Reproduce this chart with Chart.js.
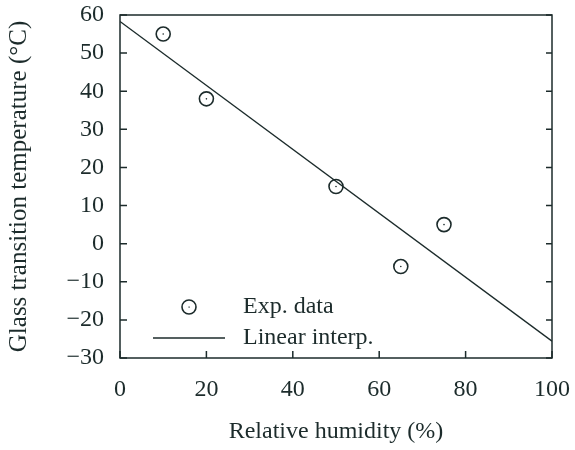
<!DOCTYPE html>
<html>
<head>
<meta charset="utf-8">
<script src="https://cdn.jsdelivr.net/npm/chart.js@4"></script>
<style>
  html, body { margin: 0; padding: 0; background: #fff; }
  #wrap { width: 575px; height: 450px; }
</style>
</head>
<body>
<div id="wrap"><canvas id="chart" width="575" height="450"></canvas></div>
<script>
// data
const humidity = [10, 20, 50, 65, 75];
const tgExp = [55, 38, 15, -6, 5];
const fitX = [0, 100];
const fitY = [58.3, -25.6];
const xTicks = [0, 20, 40, 60, 80, 100];
const yTicks = [60, 50, 40, 30, 20, 10, 0, -10, -20, -30];

const ink = '#1c2b2b';
const font = 'Liberation Serif';

// no extra room for half labels, the box is placed by hand
function noOverflow(s) {
  s.paddingTop = 0; s.paddingBottom = 0;
  s.paddingLeft = 0; s.paddingRight = 0;
}

// frame, inward ticks and legend in the plot box
const framePlugin = {
  id: 'frame',
  afterDraw(chart) {
    const { ctx, chartArea: a, scales } = chart;
    ctx.save();
    ctx.strokeStyle = ink;
    ctx.lineWidth = 1.5;
    ctx.strokeRect(a.left, a.top, a.right - a.left, a.bottom - a.top);
    ctx.beginPath();
    yTicks.forEach(v => {
      const y = scales.y.getPixelForValue(v);
      ctx.moveTo(a.left, y); ctx.lineTo(a.left + 7, y);
      ctx.moveTo(a.right, y); ctx.lineTo(a.right - 6, y);
    });
    xTicks.forEach(v => {
      const x = scales.x.getPixelForValue(v);
      ctx.moveTo(x, a.bottom); ctx.lineTo(x, a.bottom - 7);
    });
    ctx.stroke();

    // legend
    const lx = a.left + 33, ly = a.bottom - 51;
    ctx.lineWidth = 1.6;
    ctx.beginPath();
    ctx.arc(lx + 36, ly, 7, 0, Math.PI * 2);
    ctx.stroke();
    ctx.fillStyle = ink;
    ctx.fillRect(lx + 35.5, ly - 0.5, 1.2, 1.2);
    ctx.lineWidth = 1.4;
    ctx.beginPath();
    ctx.moveTo(lx, ly + 31); ctx.lineTo(lx + 72, ly + 31);
    ctx.stroke();
    ctx.font = '24px "' + font + '"';
    ctx.textBaseline = 'middle';
    ctx.fillText('Exp. data', lx + 90, ly);
    ctx.fillText('Linear interp.', lx + 90, ly + 31);
    ctx.restore();
  }
};

new Chart(document.getElementById('chart'), {
  data: {
    datasets: [
      {
        type: 'line',
        label: 'Linear interp.',
        data: fitX.map((x, i) => ({ x, y: fitY[i] })),
        borderColor: ink,
        borderWidth: 1.4,
        pointRadius: 0,
        fill: false
      },
      {
        type: 'scatter',
        label: 'Exp. data',
        data: humidity.map((x, i) => ({ x, y: tgExp[i] })),
        pointStyle: 'circle',
        pointRadius: 7,
        pointBorderWidth: 1.6,
        borderColor: ink,
        backgroundColor: 'rgba(0,0,0,0)'
      },
      {
        type: 'scatter',
        label: 'centres',
        data: humidity.map((x, i) => ({ x, y: tgExp[i] })),
        pointRadius: 0.8,
        pointBorderWidth: 0,
        backgroundColor: ink
      }
    ]
  },
  options: {
    responsive: false,
    animation: false,
    layout: { padding: { top: 15, right: 23, left: 0, bottom: 0 } },
    plugins: { legend: { display: false }, tooltip: { enabled: false } },
    scales: {
      x: {
        type: 'linear',
        min: 0, max: 100,
        afterBuildTicks: s => { s.ticks = xTicks.map(v => ({ value: v })); },
        afterFit: s => { s.height = 92; noOverflow(s); },
        grid: { display: false, drawTicks: false },
        border: { display: false },
        ticks: { padding: 17, color: ink, font: { family: font, size: 24 } },
        title: {
          display: true, text: 'Relative humidity (%)', color: ink,
          font: { family: font, size: 24 }, padding: { top: 18 }
        }
      },
      y: {
        type: 'linear',
        min: -30, max: 60,
        afterBuildTicks: s => { s.ticks = yTicks.map(v => ({ value: v })); },
        afterFit: s => { s.width = 120; noOverflow(s); },
        grid: { display: false, drawTicks: false },
        border: { display: false },
        ticks: { padding: 16, color: ink, font: { family: font, size: 24 },
                 callback: v => v < 0 ? '\u2212' + Math.abs(v) : v },
        title: {
          display: true, text: 'Glass transition temperature (\u00b0C)', color: ink,
          font: { family: font, size: 25 }, padding: { top: 4, bottom: 6 }
        }
      }
    }
  },
  plugins: [framePlugin]
});
</script>
</body>
</html>
